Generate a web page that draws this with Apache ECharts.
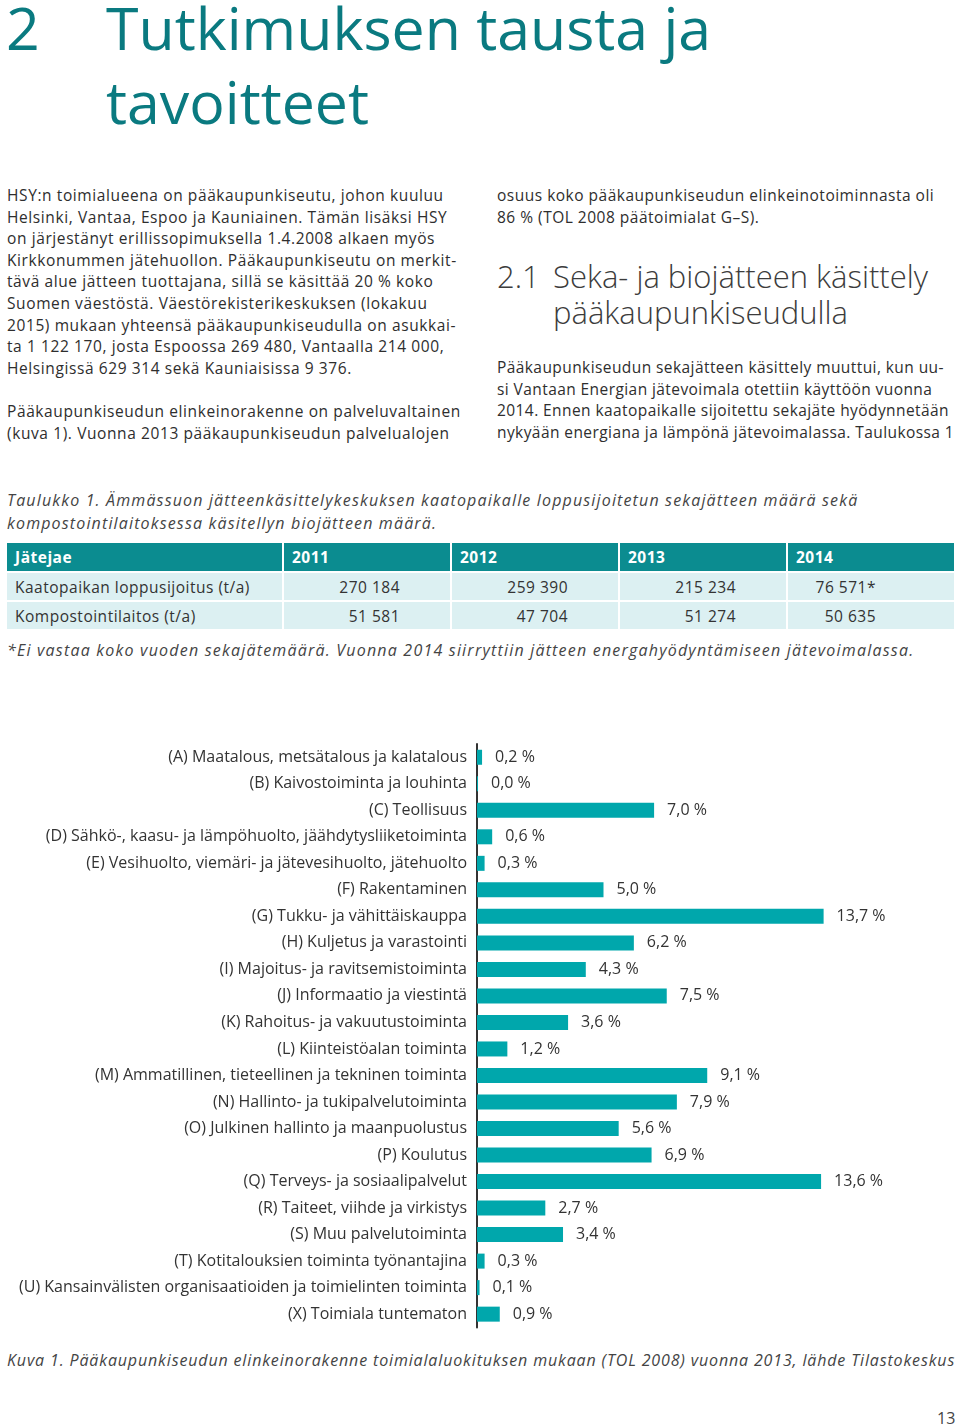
<!DOCTYPE html>
<html><head><meta charset="utf-8">
<script src="https://cdn.jsdelivr.net/npm/echarts@6/dist/echarts.min.js"></script>
<style>
html,body{margin:0;padding:0}
body{width:960px;height:1428px;position:relative;background:#fff;font-family:"Open Sans",sans-serif;color:#333;overflow:hidden}
.abs{position:absolute;white-space:pre}
.title{font-size:59px;line-height:74px;color:#0a7a80;font-weight:400}
.p{font-size:15.5px;line-height:21.6px;color:#2e2e2e}
.h2{font-size:31px;line-height:36px;color:#3c3c3c;font-weight:300}
.it{font-style:italic;font-size:16px;line-height:22.5px;color:#444}
table{border-collapse:separate;border-spacing:2px;font-size:15.5px;letter-spacing:0.5px}
td{height:27px;padding:0 8px;background:#dcf0f2;color:#333}
th{height:28px;padding:0 8px;background:#0b8c90;color:#fff;text-align:left;font-weight:700}
td.n{text-align:right}
#chart{position:absolute;left:0;top:730px;width:960px;height:610px}
</style></head>
<body>
<div class="abs title" style="left:6px;top:-10px">2</div>
<div class="abs title" style="left:106px;top:-10px">Tutkimuksen tausta ja
tavoitteet</div>

<div class="abs p" style="left:7px;top:185px;letter-spacing:0.6px">HSY:n toimialueena on pääkaupunkiseutu, johon kuuluu
Helsinki, Vantaa, Espoo ja Kauniainen. Tämän lisäksi HSY
on järjestänyt erillissopimuksella 1.4.2008 alkaen myös
Kirkkonummen jätehuollon. Pääkaupunkiseutu on merkit-
tävä alue jätteen tuottajana, sillä se käsittää 20 % koko
Suomen väestöstä. Väestörekisterikeskuksen (lokakuu
2015) mukaan yhteensä pääkaupunkiseudulla on asukkai-
ta 1 122 170, josta Espoossa 269 480, Vantaalla 214 000,
Helsingissä 629 314 sekä Kauniaisissa 9 376.

Pääkaupunkiseudun elinkeinorakenne on palveluvaltainen
(kuva 1). Vuonna 2013 pääkaupunkiseudun palvelualojen</div>

<div class="abs p" style="left:497px;top:185px;letter-spacing:0.5px">osuus koko pääkaupunkiseudun elinkeinotoiminnasta oli
86 % (TOL 2008 päätoimialat G–S).</div>

<div class="abs h2" style="left:497px;top:258px">2.1</div>
<div class="abs h2" style="left:553px;top:258px">Seka- ja biojätteen käsittely
pääkaupunkiseudulla</div>

<div class="abs p" style="left:497px;top:357px;letter-spacing:0.42px">Pääkaupunkiseudun sekajätteen käsittely muuttui, kun uu-
si Vantaan Energian jätevoimala otettiin käyttöön vuonna
2014. Ennen kaatopaikalle sijoitettu sekajäte hyödynnetään
nykyään energiana ja lämpönä jätevoimalassa. Taulukossa 1</div>

<div class="abs it" style="left:7px;top:489px;letter-spacing:1.15px">Taulukko 1. Ämmässuon jätteenkäsittelykeskuksen kaatopaikalle loppusijoitetun sekajätteen määrä sekä
kompostointilaitoksessa käsitellyn biojätteen määrä.</div>

<div class="abs" style="left:5px;top:541px;white-space:normal">
<table id="tbl"></table>
</div>

<div class="abs it" style="left:7px;top:639px;letter-spacing:1.2px">*Ei vastaa koko vuoden sekajätemäärä. Vuonna 2014 siirryttiin jätteen energahyödyntämiseen jätevoimalassa.</div>

<div id="chart"></div>

<div class="abs it" style="left:7px;top:1349px;letter-spacing:0.85px">Kuva 1. Pääkaupunkiseudun elinkeinorakenne toimialaluokituksen mukaan (TOL 2008) vuonna 2013, lähde Tilastokeskus</div>
<div class="abs" style="left:937px;top:1407px;font-size:16px;color:#444">13</div>

<script>
// ---- table data ----
var tableHeader = ["Jätejae", "2011", "2012", "2013", "2014"];
var rowLabels = ["Kaatopaikan loppusijoitus (t/a)", "Kompostointilaitos (t/a)"];
var landfill = ["270 184", "259 390", "215 234", "76 571*"];
var composting = ["51 581", "47 704", "51 274", "50 635"];

// ---- chart data ----
var categories = [
  "(A) Maatalous, metsätalous ja kalatalous",
  "(B) Kaivostoiminta ja louhinta",
  "(C) Teollisuus",
  "(D) Sähkö-, kaasu- ja lämpöhuolto, jäähdytysliiketoiminta",
  "(E) Vesihuolto, viemäri- ja jätevesihuolto, jätehuolto",
  "(F) Rakentaminen",
  "(G) Tukku- ja vähittäiskauppa",
  "(H) Kuljetus ja varastointi",
  "(I) Majoitus- ja ravitsemistoiminta",
  "(J) Informaatio ja viestintä",
  "(K) Rahoitus- ja vakuutustoiminta",
  "(L) Kiinteistöalan toiminta",
  "(M) Ammatillinen, tieteellinen ja tekninen toiminta",
  "(N) Hallinto- ja tukipalvelutoiminta",
  "(O) Julkinen hallinto ja maanpuolustus",
  "(P) Koulutus",
  "(Q) Terveys- ja sosiaalipalvelut",
  "(R) Taiteet, viihde ja virkistys",
  "(S) Muu palvelutoiminta",
  "(T) Kotitalouksien toiminta työnantajina",
  "(U) Kansainvälisten organisaatioiden ja toimielinten toiminta",
  "(X) Toimiala tuntematon"
];
var shares = [0.2, 0.04, 7.0, 0.6, 0.3, 5.0, 13.7, 6.2, 4.3, 7.5, 3.6, 1.2, 9.1, 7.9, 5.6, 6.9, 13.6, 2.7, 3.4, 0.3, 0.1, 0.9];

// build table
(function(){
  var widths = [259, 150, 150, 150, 150];
  var pads = [0, 50, 50, 50, 78];
  var html = "<tr>";
  tableHeader.forEach(function(h,i){ html += '<th style="width:'+widths[i]+'px">'+h+'</th>'; });
  html += "</tr>";
  [landfill, composting].forEach(function(row, r){
    html += "<tr><td>"+rowLabels[r]+"</td>";
    row.forEach(function(v,i){ html += '<td class="n" style="padding-right:'+pads[i+1]+'px">'+v+'</td>'; });
    html += "</tr>";
  });
  document.getElementById("tbl").innerHTML = html;
})();

var chart = echarts.init(document.getElementById("chart"), null, {renderer: "canvas"});
chart.setOption({
  animation: false,
  grid: {left: 477, top: 14, width: 379.5, height: 583.4},
  xAxis: {type: "value", min: 0, max: 15, show: false},
  yAxis: {
    type: "category", data: categories, inverse: true,
    axisTick: {show: false},
    axisLine: {show: true, lineStyle: {color: "#333", width: 2}},
    axisLabel: {color: "#333", fontSize: 16, margin: 10, fontFamily: "Open Sans"}
  },
  series: [{
    type: "bar", data: shares, barWidth: 15,
    itemStyle: {color: "#00a7ac"},
    label: {
      show: true, position: "right", distance: 13,
      color: "#333", fontSize: 16, fontFamily: "Open Sans",
      formatter: function(p){ return p.value.toFixed(1).replace(".", ",") + " %"; }
    }
  }]
});
</script>
</body></html>
